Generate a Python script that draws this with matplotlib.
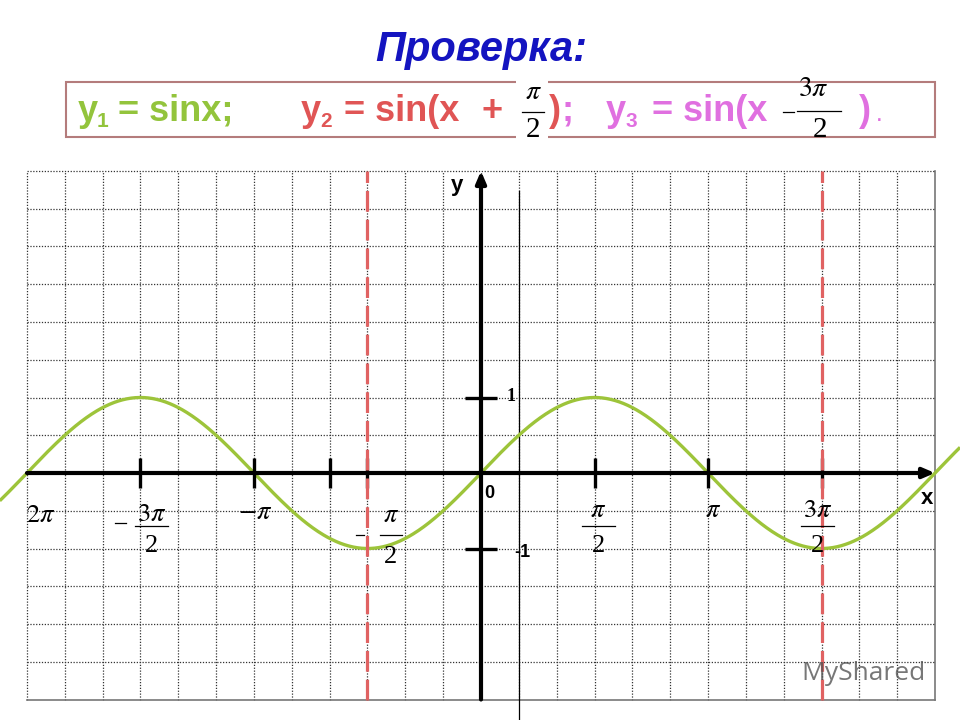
"""Graph of y = sin x with the shifted forms y2, y3 written above it (check slide)."""

import numpy as np
import matplotlib

matplotlib.use("Agg")
import matplotlib.pyplot as plt

plt.rcParams["mathtext.fontset"] = "stix"

PI = np.pi
W, H = 960, 720

# --- data -----------------------------------------------------------------------------------
curve_x = np.linspace(-6.66, 6.63, 900)
curve_y = np.sin(curve_x)

x_ticks = [-3 * PI / 2, -PI, -2 * PI / 3, -PI / 2, PI / 2, PI, 3 * PI / 2]
y_ticks = [1, -1]
y_tick_labels = ["1", "-1"]
dashed_x = [-PI / 2, 3 * PI / 2]

x_label_vals = [-2 * PI, -3 * PI / 2, -PI, -PI / 2, PI / 2, PI, 3 * PI / 2]
x_label_num = [r"$2\pi$", r"$3\pi$", r"$-\pi$", r"$\pi$", r"$\pi$", r"$\pi$", r"$3\pi$"]
x_label_den = [None, "2", None, "2", "2", None, "2"]
x_label_minus = [False, True, False, True, False, False, False]

grid_x_min, grid_x_max, grid_x_step = -2 * PI, 2 * PI, PI / 6
grid_y_min, grid_y_max, grid_y_step = -3.0, 4.0, 0.5

# --- layout (pixel offsets from each label's tick on the x axis) -----------------------------
# (num dx, num dy, bar dy, bar width, den dy, minus dx, minus dy, minus width)
label_layout = [
    (14, 42, None, None, None, None, None, None),
    (11.5, 41, 53, 33, 73, -20, 50, 11),
    (1, 39, None, None, None, None, None, None),
    (23.5, 42, 62, 22, 84, -7.5, 62, 8),
    (4, 37, 53, 33, 73, None, None, None),
    (5, 37, None, None, None, None, None, None),
    (-4, 37, 53, 33, 73, None, None, None),
]

GREEN = "#93c43c"
CURVE = "#9dc43a"
RED = "#e05555"
MAGENTA = "#e070e0"
BLUE = "#1414c0"
DASH_RED = "#e06262"
SANS = "Liberation Sans"

fig = plt.figure(figsize=(W / 100, H / 100), dpi=100)
ax = fig.add_axes([0, 0, 1, 1])
ax.set_xlim(-481 / 72.26, (W - 481) / 72.26)
ax.set_ylim((473 - H) / 75.5, 473 / 75.5)
ax.axis("off")

px_x = W / (ax.get_xlim()[1] - ax.get_xlim()[0])
px_y = H / (ax.get_ylim()[1] - ax.get_ylim()[0])

# grid
dot = (0, (1, 1.3))
for gx in np.arange(grid_x_min, grid_x_max + 1e-9, grid_x_step):
    last = abs(gx - grid_x_max) < 1e-9
    ax.plot([gx, gx], [grid_y_min, grid_y_max], color="#777777" if last else "#333333",
            lw=1.2 if last else 0.9, ls="-" if last else dot, zorder=1)
for gy in np.arange(grid_y_min, grid_y_max + 1e-9, grid_y_step):
    last = abs(gy - grid_y_min) < 1e-9
    ax.plot([grid_x_min, grid_x_max], [gy, gy], color="#777777" if last else "#333333",
            lw=1.2 if last else 0.9, ls="-" if last else dot, zorder=1)

# thin stray line right of the y axis
ax.plot([PI / 6, PI / 6], [3.74, ax.get_ylim()[0]], color="black", lw=0.9, zorder=2)

# sine curve
ax.plot(curve_x, curve_y, color=CURVE, lw=2.4, zorder=3, solid_capstyle="butt")

# axes with arrows
ax.annotate("", xy=(grid_x_max, 0), xytext=(grid_x_min, 0),
            arrowprops=dict(arrowstyle="-|>,head_length=0.7,head_width=0.3", lw=3, color="black",
                            shrinkA=0, shrinkB=0), zorder=4)
ax.annotate("", xy=(0, grid_y_max), xytext=(0, grid_y_min),
            arrowprops=dict(arrowstyle="-|>,head_length=0.7,head_width=0.3", lw=3, color="black",
                            shrinkA=0, shrinkB=0), zorder=4)

# tick marks
for tx in x_ticks:
    ax.plot([tx, tx], [-0.2, 0.2], color="black", lw=2.4, zorder=4, solid_capstyle="butt")
for ty in y_ticks:
    ax.plot([-0.215, 0.215], [ty, ty], color="black", lw=2.4, zorder=4, solid_capstyle="butt")

# red dashed lines
for dx in dashed_x:
    ax.plot([dx, dx], [grid_y_min, grid_y_max], color=DASH_RED, lw=2.3, ls=(0, (6.5, 2.5)),
            zorder=5)

# x-axis labels
for val, num, den, minus, lay in zip(x_label_vals, x_label_num, x_label_den, x_label_minus,
                                     label_layout):
    ndx, ndy, bdy, bw, ddy, mdx, mdy, mw = lay
    ax.annotate(num, xy=(val, 0), xytext=(ndx, -ndy), textcoords="offset pixels",
                ha="center", va="center", fontsize=19, zorder=6)
    if den is not None:
        cx = val + ndx / px_x
        ax.plot([cx - bw / 2 / px_x, cx + bw / 2 / px_x], [-bdy / px_y] * 2,
                color="black", lw=0.9, zorder=6)
        ax.annotate(den, xy=(val, 0), xytext=(ndx, -ddy), textcoords="offset pixels",
                    ha="center", va="center", fontsize=19, family="Liberation Serif", zorder=6)
    if minus:
        mx = val + mdx / px_x
        ax.plot([mx - mw / 2 / px_x, mx + mw / 2 / px_x], [-mdy / px_y] * 2,
                color="black", lw=0.9, zorder=6)

# axis names and y labels
ax.annotate("x", xy=(grid_x_max, 0), xytext=(-8, -26), textcoords="offset pixels",
            ha="center", va="center", fontsize=16, fontweight="bold", family=SANS)
ax.annotate("y", xy=(0, grid_y_max), xytext=(-24, -15), textcoords="offset pixels",
            ha="center", va="center", fontsize=16, fontweight="bold", family=SANS)
ax.annotate("0", xy=(0, 0), xytext=(8, -21), textcoords="offset pixels",
            ha="center", va="center", fontsize=13, fontweight="bold", family=SANS)
ax.annotate(y_tick_labels[0], xy=(0, y_ticks[0]), xytext=(30, 1), textcoords="offset pixels",
            ha="center", va="center", fontsize=13, fontweight="bold", family="Liberation Serif")
ax.annotate(y_tick_labels[1], xy=(0, y_ticks[1]), xytext=(41, -4), textcoords="offset pixels",
            ha="center", va="center", fontsize=13, fontweight="bold", family=SANS)


# --- header --------------------------------------------------------------------------------
def fpx(x, y):
    return x / W, 1 - y / H


fig.text(*fpx(481, 50), "Проверка:", ha="center", va="center", fontsize=30,
         fontweight="bold", fontstyle="italic", color=BLUE, family=SANS)

box = plt.Rectangle(fpx(66, 137), (935 - 66) / W, (137 - 82) / H, transform=fig.transFigure,
                    fill=False, edgecolor="#b47c7c", lw=1.5)
fig.add_artist(box)
fig.add_artist(plt.Rectangle(fpx(516, 142), 32 / W, 64 / H, transform=fig.transFigure,
                             facecolor="white", edgecolor="none"))

BASE, SUB = 121, 127
BIG, SMALL = 26, 15
pieces = [
    ("y", 78, BASE, BIG, GREEN), ("1", 97, SUB, SMALL, GREEN),
    ("= sinx;", 118, BASE, BIG, GREEN),
    ("y", 301, BASE, BIG, RED), ("2", 320, SUB, SMALL, RED), ("= sin(x", 344, BASE, BIG, RED),
    ("+", 481, BASE, BIG, RED),
    (")", 549, BASE, BIG, RED), (";", 562, BASE, BIG, MAGENTA),
    ("y", 606, BASE, BIG, MAGENTA), ("3", 625, SUB, SMALL, MAGENTA),
    ("= sin(x", 652, BASE, BIG, MAGENTA), (")", 859, BASE, BIG, MAGENTA),
    (".", 877, BASE, 12, MAGENTA),
]
for txt, x, y, size, col in pieces:
    fig.text(*fpx(x, y), txt, ha="left", va="baseline", fontsize=size, fontweight="bold",
             color=col, family=SANS)

# fractions in the formula line
fig.text(*fpx(533, 91), r"$\pi$", ha="center", va="center", fontsize=20)
fig.text(*fpx(533, 130), "2", ha="center", va="center", fontsize=21, family="Liberation Serif")
fig.add_artist(plt.Line2D([522 / W, 544 / W], [1 - 112 / H] * 2, color="black", lw=0.9))
fig.add_artist(plt.Line2D([783 / W, 794 / W], [1 - 112 / H] * 2, color="black", lw=0.9))
fig.text(*fpx(813, 88), r"$3\pi$", ha="center", va="center", fontsize=20)
fig.add_artist(plt.Line2D([797 / W, 841 / W], [1 - 111 / H] * 2, color="black", lw=0.9))
fig.text(*fpx(820, 130), "2", ha="center", va="center", fontsize=21, family="Liberation Serif")

# watermark
fig.text(*fpx(864, 674), "MyShared", ha="center", va="center", fontsize=19, color="#555555",
         alpha=0.8, family="Open Sans")

fig.savefig("out.png", dpi=100)
